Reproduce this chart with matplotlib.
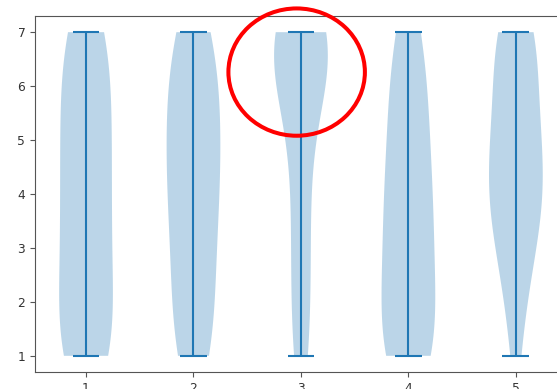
import numpy as np
import matplotlib
matplotlib.use("Agg")
import matplotlib.pyplot as plt
from matplotlib.patches import Ellipse

# Likert scale responses (1-7): number of answers per level for each question
levels = [1, 2, 3, 4, 5, 6, 7]
q1_counts = [7, 5, 5, 5, 5, 5, 5]
q2_counts = [4, 4, 4, 5, 5, 5, 4]
q3_counts = [3, 3, 3, 3, 3, 8, 14]
q4_counts = [7, 5, 5, 5, 4, 4, 3]
q5_counts = [1, 2, 4, 6, 5, 4, 5]
positions = [1, 2, 3, 4, 5]

data = [np.repeat(levels, c) for c in
        (q1_counts, q2_counts, q3_counts, q4_counts, q5_counts)]

fig = plt.figure(figsize=(5.57, 3.89), dpi=100)
ax = fig.add_axes([0.0628, 0.0437, 0.955, 0.9152])
ax.violinplot(data, positions=positions)

for side in ("top", "right", "bottom", "left"):
    ax.spines[side].set_color("#555555")
ax.tick_params(labelsize=8.8, colors="#555555", labelcolor="#333333")
ax.set_xticks(positions)
ax.set_yticks(levels)

# highlight the third question's upper cluster
ax.add_patch(Ellipse((2.96, 6.26), 1.27, 2.36, fill=False,
                     edgecolor="red", linewidth=2.9, clip_on=False, zorder=5))

fig.savefig("out.png", dpi=100)
